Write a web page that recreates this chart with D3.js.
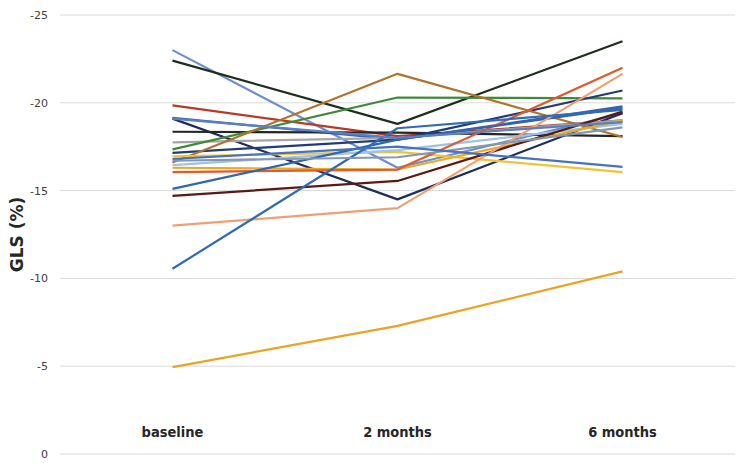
<!DOCTYPE html>
<html>
<head>
<meta charset="utf-8">
<script src="https://cdn.jsdelivr.net/npm/d3@7"></script>
<style>
  html, body { margin: 0; padding: 0; background: #fff; }
  svg { display: block; }
</style>
</head>
<body>
<svg id="chart" width="740" height="463"></svg>
<script>
// ---- data ----
const categories = ["baseline", "2 months", "6 months"];
const yTicks = [0, -5, -10, -15, -20, -25];
const seriesNames = ["P1","P2","P3","P4","P5","P6","P7","P8","P9","P10","P11","P12","P13","P14","P15","P16","P17","P18","P19","P20","P21","P22"];
const seriesColors = ["#6d8fd0","#1e2e1c","#b83a26","#3a64b0","#1d2d5c","#262626","#a5a5a5","#3f8a3a","#223c78","#b2722a","#f2c230","#9dc3e6","#e8aa2a","#e05a2c","#2e66b0","#5a1a12","#f0a070","#2f6cb5","#eaa322","#8497b0","#4472c4","#5b7fc4"];
const baselineVals = [-23.0,-22.4,-19.85,-19.15,-19.1,-18.35,-17.75,-17.35,-17.15,-16.6,-16.95,-16.45,-16.3,-16.05,-15.1,-14.7,-13.0,-10.55,-4.95,-16.7,-16.8,-19.1];
const month2Vals   = [-16.3,-18.8,-18.1,-17.9,-14.5,-18.3,-18.0,-20.3,-17.9,-21.65,-17.2,-17.3,-16.2,-16.2,-17.9,-15.55,-14.0,-18.55,-7.3,-16.9,-17.5,-18.0];
const month6Vals   = [-19.4,-23.5,-19.0,-19.8,-19.4,-18.1,-19.0,-20.25,-20.7,-18.05,-16.05,-18.8,-19.0,-22.0,-19.7,-19.5,-21.65,-19.6,-10.4,-18.6,-16.35,-18.9];

// ---- layout ----
const svg = d3.select("#chart");
const margin = {left: 60, right: 5, top: 15, bottom: 9};
const W = 740, H = 463;

const x = d3.scaleBand().domain(categories).range([margin.left, W - margin.right]);
const y = d3.scaleLinear().domain([0, -25]).range([H - margin.bottom, margin.top]);

// gridlines
svg.append("g").selectAll("line").data(yTicks).join("line")
  .attr("x1", margin.left).attr("x2", W - margin.right)
  .attr("y1", d => y(d)).attr("y2", d => y(d))
  .attr("stroke", "#d9d9d9").attr("stroke-width", 1);

// y axis tick labels
const yAxis = d3.axisLeft(y).tickValues(yTicks).tickSize(0).tickPadding(12)
  .tickFormat(d => d === 0 ? "0" : d3.format("d")(d).replace("−", "-"));
const gy = svg.append("g").attr("transform", `translate(${margin.left},0)`).call(yAxis);
gy.select(".domain").remove();
gy.selectAll("text").attr("font-family", "'DejaVu Sans', sans-serif").attr("font-size", 11).attr("fill", "#404040");

// x axis labels (above the 0 line, like the reference)
const gx = svg.append("g").attr("transform", `translate(0,${y(-0.9)})`)
  .call(d3.axisBottom(x).tickSize(0));
gx.select(".domain").remove();
gx.selectAll("text").attr("font-family", "'DejaVu Sans Condensed', 'DejaVu Sans', sans-serif")
  .attr("font-weight", "bold").attr("font-size", 14.5).attr("fill", "#262626").attr("dy", "-0.3em");

// y title
svg.append("text")
  .attr("transform", `translate(23,${(y(0) + y(-25)) / 2}) rotate(-90)`)
  .attr("text-anchor", "middle")
  .attr("font-family", "'DejaVu Sans', sans-serif").attr("font-weight", "bold").attr("font-size", 17)
  .attr("fill", "#262626").text("GLS (%)");

// lines
const series = seriesNames.map((n, i) => ({
  name: n, color: seriesColors[i],
  values: [baselineVals[i], month2Vals[i], month6Vals[i]]
}));
const line = d3.line().x((d, i) => x(categories[i]) + x.bandwidth() / 2).y(d => y(d));
svg.append("g").selectAll("path").data(series).join("path")
  .attr("d", d => line(d.values))
  .attr("fill", "none").attr("stroke", d => d.color).attr("stroke-width", 2.2)
  .attr("stroke-linejoin", "round");
</script>
</body>
</html>
